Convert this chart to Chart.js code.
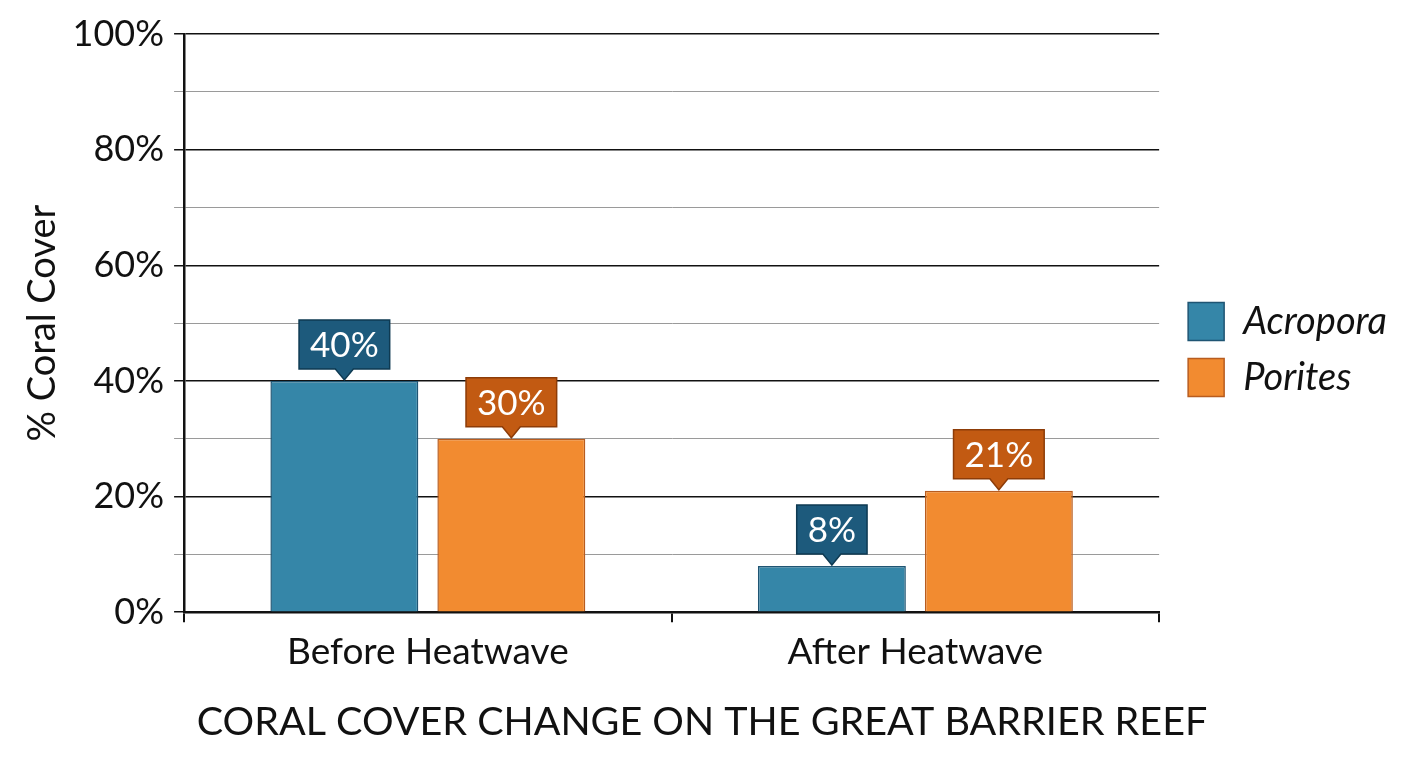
<!DOCTYPE html>
<html>
<head>
<meta charset="utf-8">
<script src="https://cdn.jsdelivr.net/npm/chart.js@4.4.1/dist/chart.umd.min.js"></script>
<style>
  html, body { margin: 0; padding: 0; background: #fff; }
  #wrap { width: 1408px; height: 768px; }
</style>
</head>
<body>
<div id="wrap"><canvas id="coralChart"></canvas></div>
<script>
'use strict';

// Dữ liệu
var categories = ['Before Heatwave', 'After Heatwave'];
var acroporaValues = [40, 8];
var poritesValues = [30, 21];
var seriesNames = ['Acropora', 'Porites'];
var yTickStep = 10;      // vạch phụ mỗi 10%, nhãn mỗi 20%
var yMax = 100;

// Màu nhãn giá trị cho từng series
var labelFill = ['#1d5a7c', '#c25a12'];
var labelBorder = ['#0e3a52', '#8d3c08'];

// Plugin vẽ nhãn giá trị dạng hộp có mũi nhọn phía trên cột
var valueBoxes = {
    id: 'valueBoxes',
    afterDatasetsDraw: function (chart) {
        var ctx = chart.ctx;
        ctx.save();
        ctx.font = '35px Lato';
        ctx.textAlign = 'center';
        ctx.textBaseline = 'middle';
        chart.data.datasets.forEach(function (ds, i) {
            chart.getDatasetMeta(i).data.forEach(function (bar, j) {
                var text = ds.data[j] + '%';
                var w = ctx.measureText(text).width + 22;
                var h = 49;
                var x = bar.x;
                var tip = bar.y - 1;
                var b = tip - 11;
                var t = b - h;
                var l = x - w / 2;
                var r = x + w / 2;
                ctx.beginPath();
                ctx.moveTo(l, t);
                ctx.lineTo(r, t);
                ctx.lineTo(r, b);
                ctx.lineTo(x + 9, b);
                ctx.lineTo(x, tip);
                ctx.lineTo(x - 9, b);
                ctx.lineTo(l, b);
                ctx.closePath();
                ctx.fillStyle = labelFill[i];
                ctx.fill();
                ctx.lineWidth = 1.5;
                ctx.strokeStyle = labelBorder[i];
                ctx.stroke();
                ctx.fillStyle = '#ffffff';
                ctx.fillText(text, x, t + h / 2 + 1);
            });
        });
        ctx.restore();
    }
};

var ctx = document.getElementById('coralChart').getContext('2d');

var coralChart = new Chart(ctx, {
    type: 'bar',
    data: {
        labels: categories,
        datasets: [{
            label: seriesNames[0],
            data: acroporaValues,
            backgroundColor: '#3586a8',
            borderColor: '#1f5573',
            borderWidth: 1.5
        }, {
            label: seriesNames[1],
            data: poritesValues,
            backgroundColor: '#f28b30',
            borderColor: '#b85c1f',
            borderWidth: 1.5
        }]
    },
    options: {
        responsive: true,
        maintainAspectRatio: false,
        animation: false,
        categoryPercentage: 0.685,
        barPercentage: 0.886,
        layout: {
            padding: { top: 34, left: 7, right: 11, bottom: 22 }
        },
        scales: {
            x: {
                grid: {
                    drawOnChartArea: false,
                    drawTicks: true,
                    tickLength: 10,
                    color: '#111',
                    lineWidth: 2
                },
                border: { color: '#111', width: 2.5 },
                ticks: {
                    color: '#111',
                    padding: 8,
                    font: { family: 'Lato', size: 37 }
                }
            },
            y: {
                min: 0,
                max: yMax,
                border: { color: '#111', width: 2.5 },
                grid: {
                    tickLength: 10,
                    color: function (c) {
                        return c.tick.value % 20 === 0 ? '#111' : '#9a9a9a';
                    },
                    lineWidth: function (c) {
                        return c.tick.value % 20 === 0 ? 1.5 : 1;
                    }
                },
                ticks: {
                    stepSize: yTickStep,
                    color: '#111',
                    padding: 10,
                    font: { family: 'Lato', size: 36 },
                    callback: function (value) {
                        return value % 20 === 0 ? value + '%' : '';
                    }
                },
                title: {
                    display: true,
                    text: '% Coral Cover',
                    color: '#111',
                    padding: { top: 13, bottom: -3 },
                    font: { family: 'Lato', size: 38 }
                }
            },
            // trục phụ vô hình, chỉ để chừa khoảng trống trước chú thích
            gap: {
                type: 'linear',
                position: 'right',
                ticks: { display: false },
                grid: { display: false },
                border: { display: false },
                afterFit: function (scale) {
                    scale.width = 11;
                }
            }
        },
        plugins: {
            legend: {
                position: 'right',
                fullSize: false,
                title: {
                    display: true,
                    text: '',
                    padding: { top: 41, bottom: 0 },
                    font: { size: 10 }
                },
                labels: {
                    boxWidth: 36,
                    boxHeight: 38,
                    padding: 18,
                    color: '#111',
                    font: { family: 'Lato', size: 38, style: 'italic' }
                }
            },
            title: {
                display: true,
                position: 'bottom',
                text: 'CORAL COVER CHANGE ON THE GREAT BARRIER REEF',
                color: '#111',
                padding: { top: 16, bottom: 0 },
                font: { family: 'Lato', size: 39.5, weight: 'normal' }
            },
            tooltip: { enabled: false }
        }
    },
    plugins: [valueBoxes]
});
</script>
</body>
</html>
